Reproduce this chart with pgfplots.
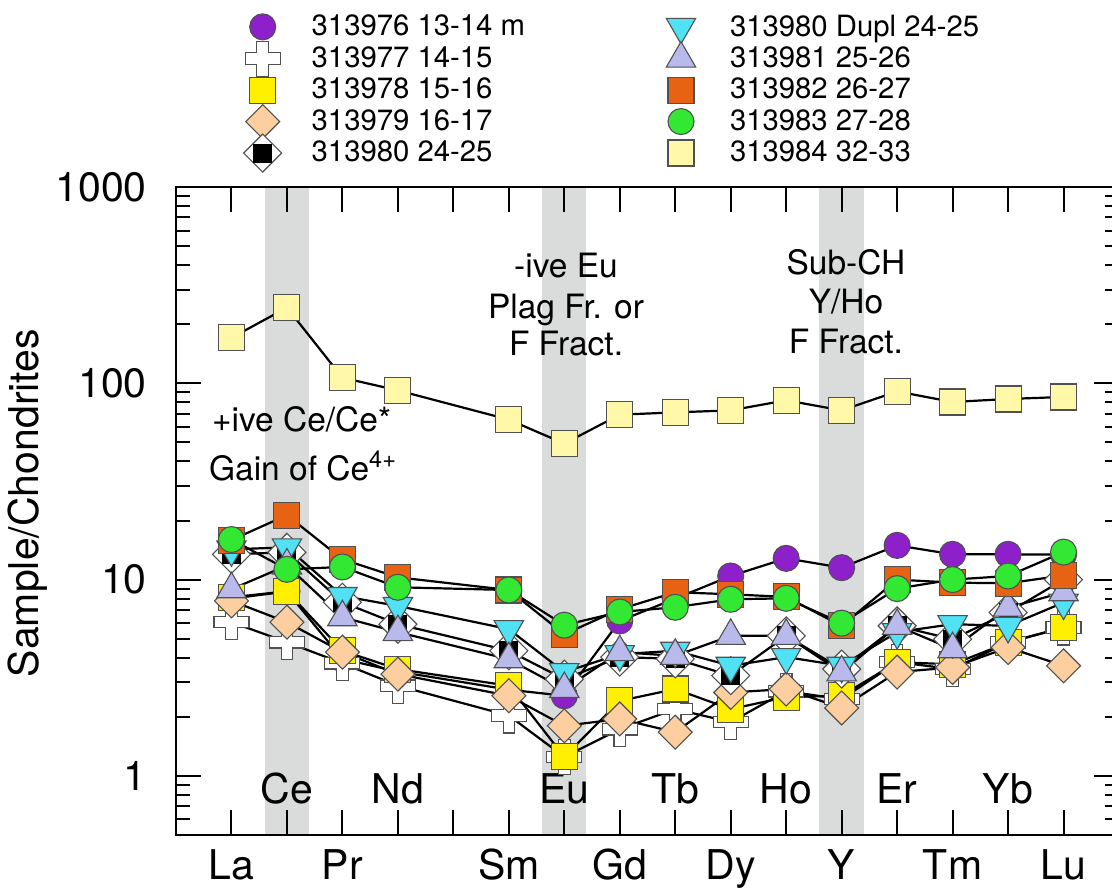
\documentclass[border=0pt]{standalone}
\usepackage{fontspec}
\setmainfont{TeX Gyre Heros}
\usepackage{pgfplots}
\usepackage{pgfplotstable}
\pgfplotsset{compat=1.18}

\definecolor{purpleM}{RGB}{142,32,204}
\definecolor{yellowM}{RGB}{255,240,0}
\definecolor{tanM}{RGB}{252,206,160}
\definecolor{cyanM}{RGB}{80,225,245}
\definecolor{lavM}{RGB}{185,185,235}
\definecolor{orangeM}{RGB}{232,98,20}
\definecolor{greenM}{RGB}{50,232,50}
\definecolor{lyellowM}{RGB}{255,248,168}
\definecolor{edgeM}{RGB}{80,80,80}
\definecolor{bandM}{RGB}{218,220,220}

\newcommand\tickfont{\fontsize{20.5}{24}\selectfont}
\newcommand\legfont{\fontsize{14.65}{17}\selectfont}
\newcommand\annfont{\fontsize{16.75}{20}\selectfont}
\newcommand\lgs{\rule[-2pt]{0pt}{12pt}}

% fat white cross
\pgfdeclareplotmark{gcross}{%
  \pgfpathmoveto{\pgfpoint{-0.33\pgfplotmarksize}{\pgfplotmarksize}}
  \pgfpathlineto{\pgfpoint{0.33\pgfplotmarksize}{\pgfplotmarksize}}
  \pgfpathlineto{\pgfpoint{0.33\pgfplotmarksize}{0.33\pgfplotmarksize}}
  \pgfpathlineto{\pgfpoint{\pgfplotmarksize}{0.33\pgfplotmarksize}}
  \pgfpathlineto{\pgfpoint{\pgfplotmarksize}{-0.33\pgfplotmarksize}}
  \pgfpathlineto{\pgfpoint{0.33\pgfplotmarksize}{-0.33\pgfplotmarksize}}
  \pgfpathlineto{\pgfpoint{0.33\pgfplotmarksize}{-\pgfplotmarksize}}
  \pgfpathlineto{\pgfpoint{-0.33\pgfplotmarksize}{-\pgfplotmarksize}}
  \pgfpathlineto{\pgfpoint{-0.33\pgfplotmarksize}{-0.33\pgfplotmarksize}}
  \pgfpathlineto{\pgfpoint{-\pgfplotmarksize}{-0.33\pgfplotmarksize}}
  \pgfpathlineto{\pgfpoint{-\pgfplotmarksize}{0.33\pgfplotmarksize}}
  \pgfpathlineto{\pgfpoint{-0.33\pgfplotmarksize}{0.33\pgfplotmarksize}}
  \pgfpathclose
  \pgfusepathqfillstroke
}
% white diamond with a black square in it
\pgfdeclareplotmark{diasq}{%
  \pgfpathmoveto{\pgfpoint{0pt}{\pgfplotmarksize}}
  \pgfpathlineto{\pgfpoint{\pgfplotmarksize}{0pt}}
  \pgfpathlineto{\pgfpoint{0pt}{-\pgfplotmarksize}}
  \pgfpathlineto{\pgfpoint{-\pgfplotmarksize}{0pt}}
  \pgfpathclose
  \pgfusepathqfillstroke
  \begin{pgfscope}
  \pgfsetfillcolor{black}
  \pgfpathrectanglecorners{\pgfpoint{-0.5\pgfplotmarksize}{-0.5\pgfplotmarksize}}{\pgfpoint{0.5\pgfplotmarksize}{0.5\pgfplotmarksize}}
  \pgfusepathqfill
  \end{pgfscope}
}

% La=0 Ce=1 Pr=2 Nd=3 (Pm=4) Sm=5 Eu=6 Gd=7 Tb=8 Dy=9 Ho=10 Y=11 Er=12 Tm=13 Yb=14 Lu=15
\pgfplotstableread{
x  s76   s77  s78  s79  s80   s80d  s81  s82   s83   s84
0  8.0   6.07 8.13 7.79 13.45 14.26 8.93 15.9  16.0  170.5
1  8.7   4.8  8.72 6.07 13.77 14.6  11.8 21.3  11.28 243
2  3.94  3.75 4.34 4.27 7.67  8.25  6.43 12.69 11.6  106.8
3  3.4   2.88 3.5  3.3  5.93  7.34  5.4  10.27 9.14  92.0
5  2.75  2.03 2.88 2.56 4.34  5.59  3.93 8.85  8.85  65.3
6  2.56  1.25 1.25 1.8  3.11  3.38  2.77 5.27  5.86  49.3
7  6.16  1.73 2.41 1.95 4.03  4.17  4.27 7.06  6.84  69.2
8  8.0   2.19 2.77 1.67 3.95  4.34  4.09 8.62  7.23  71.1
9  10.43 1.88 2.19 2.66 3.24  3.64  5.17 8.42  7.94  72.8
10 12.83 2.7  2.52 2.77 5.17  4.03  5.17 8.16  8.03  81.9
11 11.5  2.46 2.56 2.22 3.5   3.64  3.37 5.81  6.0   72.8
12 14.94 3.8  3.8  3.38 5.81  5.4   5.81 10.0  9.0   90.9
13 13.45 3.5  3.7  3.57 4.97  5.93  4.42 9.65  10.0  80.3
14 13.45 4.8  4.78 4.51 6.8   5.81  7.2  9.58  10.43 83.2
15 13.4  5.7  5.7  3.64 10.0  7.64  8.62 10.5  13.81 85.2
}\ree

\begin{document}
\begin{tikzpicture}
\begin{axis}[
    at={(0,0)}, anchor=south west,
    scale only axis,
    width=471.5pt, height=324pt,
    ymode=log,
    xmin=-1, xmax=16,
    ymin=0.5, ymax=1000,
    axis on top,
    xtick={0,...,15},
    xticklabels={La,{},Pr,{},{},Sm,{},Gd,{},Dy,{},Y,{},Tm,{},Lu},
    ytick={1,10,100,1000},
    yticklabels={1,10,100,1000},
    minor ytick={0.6,0.7,0.8,0.9,2,3,4,5,6,7,8,9,20,30,40,50,60,70,80,90,200,300,400,500,600,700,800,900},
    major tick length=12.5pt,
    minor tick length=7pt,
    every tick/.style={black, line width=1pt},
    axis line style={line width=1.2pt},
    tick label style={font=\tickfont},
    /pgf/number format/assume math mode=true,
    xticklabel style={anchor=base, inner sep=0pt, yshift=-22pt},
    yticklabel style={anchor=east, inner sep=0pt, xshift=-14.5pt},
    ylabel={Sample/Chondrites},
    ylabel style={at={(axis description cs:-0.157,0.512)}, anchor=center, font=\tickfont},
    legend columns=5,
    transpose legend,
    legend cell align=left,
    legend style={draw=none, fill=none, inner sep=0pt, outer sep=0pt,
        at={(axis description cs:0.0665,1.2659)}, anchor=north west,
        row sep=3.85pt, column sep=0pt, font=\legfont, nodes={inner sep=0pt}},
    legend image code/.code={%
        \draw[#1,only marks,overlay] plot coordinates {(0pt,0pt)};
        \pgfpathrectanglecorners{\pgfpoint{-12pt}{-5pt}}{\pgfpoint{24.5pt}{5pt}}%
        \pgfusepath{discard}%
    },
]

% grey bands at Ce, Eu and Y
\fill[bandM] (axis cs:0.6,0.5) rectangle (axis cs:1.4,1000);
\fill[bandM] (axis cs:5.6,0.5) rectangle (axis cs:6.4,1000);
\fill[bandM] (axis cs:10.6,0.5) rectangle (axis cs:11.4,1000);

\addplot[black, line width=1.1pt, mark=*, mark size=6.5pt,
    mark options={fill=purpleM, draw=edgeM, line width=0.55pt, solid}]
    table[x=x, y=s76] {\ree};
\addlegendentry{\lgs\makebox[172.65pt][l]{313976 13-14 m}}

\addplot[black, line width=1.1pt, mark=gcross, mark size=8.75pt,
    mark options={fill=white, draw=edgeM, line width=0.55pt, solid}]
    table[x=x, y=s77] {\ree};
\addlegendentry{\lgs\makebox[172.65pt][l]{313977 14-15}}

\addplot[black, line width=1.1pt, mark=square*, mark size=6.5pt,
    mark options={fill=yellowM, draw=edgeM, line width=0.55pt, solid}]
    table[x=x, y=s78] {\ree};
\addlegendentry{\lgs\makebox[172.65pt][l]{313978 15-16}}

\addplot[black, line width=1.1pt, mark=square*, mark size=6pt,
    mark options={fill=tanM, draw=edgeM, line width=0.55pt, solid, rotate=45}]
    table[x=x, y=s79] {\ree};
\addlegendentry{\lgs\makebox[172.65pt][l]{313979 16-17}}

\addplot[black, line width=1.1pt, mark=diasq, mark size=9.5pt,
    mark options={fill=white, draw=edgeM, line width=0.55pt, solid}]
    table[x=x, y=s80] {\ree};
\addlegendentry{\lgs\makebox[172.65pt][l]{313980 24-25}}

\addplot[black, line width=1.1pt, mark=triangle*, mark size=8.5pt,
    mark options={fill=cyanM, draw=edgeM, line width=0.55pt, solid, rotate=180}]
    table[x=x, y=s80d] {\ree};
\addlegendentry{\lgs 313980 Dupl 24-25}

\addplot[black, line width=1.1pt, mark=triangle*, mark size=8.5pt,
    mark options={fill=lavM, draw=edgeM, line width=0.55pt, solid}]
    table[x=x, y=s81] {\ree};
\addlegendentry{\lgs 313981 25-26}

\addplot[black, line width=1.1pt, mark=square*, mark size=6.5pt,
    mark options={fill=orangeM, draw=edgeM, line width=0.55pt, solid}]
    table[x=x, y=s82] {\ree};
\addlegendentry{\lgs 313982 26-27}

\addplot[black, line width=1.1pt, mark=*, mark size=6.5pt,
    mark options={fill=greenM, draw=edgeM, line width=0.55pt, solid}]
    table[x=x, y=s83] {\ree};
\addlegendentry{\lgs 313983 27-28}

\addplot[black, line width=1.1pt, mark=square*, mark size=6.5pt,
    mark options={fill=lyellowM, draw=edgeM, line width=0.55pt, solid}]
    table[x=x, y=s84] {\ree};
\addlegendentry{\lgs 313984 32-33}

% element names set inside the box
\node[anchor=base, font=\tickfont] at (axis cs:1,0.72) {Ce};
\node[anchor=base, font=\tickfont] at (axis cs:3,0.72) {Nd};
\node[anchor=base, font=\tickfont] at (axis cs:6,0.72) {Eu};
\node[anchor=base, font=\tickfont] at (axis cs:8,0.72) {Tb};
\node[anchor=base, font=\tickfont] at (axis cs:10,0.72) {Ho};
\node[anchor=base, font=\tickfont] at (axis cs:12,0.72) {Er};
\node[anchor=base, font=\tickfont] at (axis cs:14,0.72) {Yb};

% annotations
\node[anchor=base west, font=\annfont] at (axis description cs:0.0308,0.6219) {+ive Ce/Ce*};
\node[anchor=base west, font=\annfont] at (axis description cs:0.0276,0.5478) {Gain of Ce\textsuperscript{4+}};
\node[anchor=base, font=\annfont] at (axis description cs:0.4136,0.8596) {-ive Eu};
\node[anchor=base, font=\annfont] at (axis description cs:0.4136,0.7978) {Plag Fr. or};
\node[anchor=base, font=\annfont] at (axis description cs:0.4136,0.7407) {F Fract.};
\node[anchor=base, font=\annfont] at (axis description cs:0.7105,0.8642) {Sub-CH};
\node[anchor=base, font=\annfont] at (axis description cs:0.7105,0.8051) {Y/Ho};
\node[anchor=base, font=\annfont] at (axis description cs:0.7105,0.7434) {F Fract.};

\end{axis}
\pgfresetboundingbox
\path[use as bounding box] (-88pt,-26.5pt) rectangle (468pt,417.5pt);
\end{tikzpicture}
\end{document}
